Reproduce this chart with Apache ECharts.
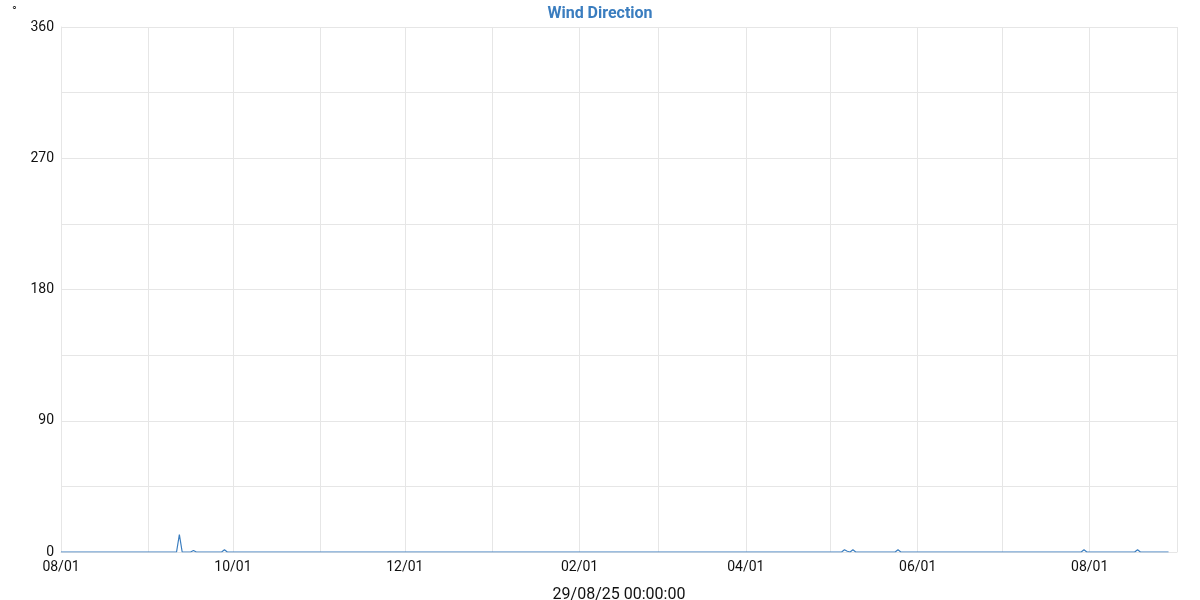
<!DOCTYPE html>
<html>
<head>
<meta charset="utf-8">
<script src="https://cdn.jsdelivr.net/npm/echarts@6/dist/echarts.min.js"></script>
<style>
html,body{margin:0;padding:0;background:#fff;}
#chart{width:1200px;height:600px;}
</style>
</head>
<body>
<div id="chart"></div>
<script>
// Daily wind direction readings (only the days around non-zero readings plus range ends are listed; all other days are 0)
const dates = [
  '2024-08-01', '2024-09-11', '2024-09-12', '2024-09-13',
  '2024-09-16', '2024-09-17', '2024-09-18',
  '2024-09-27', '2024-09-28', '2024-09-29',
  '2025-05-05', '2025-05-06', '2025-05-07', '2025-05-08', '2025-05-09', '2025-05-10',
  '2025-05-24', '2025-05-25', '2025-05-26',
  '2025-07-29', '2025-07-30', '2025-07-31',
  '2025-08-17', '2025-08-18', '2025-08-19',
  '2025-08-29'
];
const values = [
  0, 0, 12, 0,
  0, 1, 0,
  0, 1.5, 0,
  0, 1.5, 0.5, 0, 1.5, 0,
  0, 1.5, 0,
  0, 1.5, 0,
  0, 1.5, 0,
  0
];
const yTicks = [0, 90, 180, 270, 360];
const xMin = '2024-08-01';
const xMax = '2025-09-01';
const titleText = 'Wind Direction';
const unitText = '°';
const xName = '29/08/25 00:00:00';

const chart = echarts.init(document.getElementById('chart'));
const DAY = 86400000;
chart.setOption({
  animation: false,
  title: [
    { text: titleText, left: 'center', top: 1,
      textStyle: { fontFamily: 'Roboto', fontSize: 16, fontWeight: 'bold', color: '#3a7dbf' } },
    { text: unitText, left: 7, top: 0,
      textStyle: { fontFamily: 'Roboto', fontSize: 13, fontWeight: 'normal', color: '#222' } }
  ],
  grid: { left: 61, right: 23, top: 27, bottom: 48, containLabel: false, outerBoundsMode: 'none' },
  xAxis: {
    type: 'time',
    min: xMin,
    max: xMax,
    minInterval: 28 * DAY,
    maxInterval: 31 * DAY,
    splitNumber: 13,
    name: xName,
    nameLocation: 'middle',
    nameGap: 35,
    nameTextStyle: { fontFamily: 'Roboto', fontSize: 16, color: '#111' },
    axisLine: { show: true, lineStyle: { color: '#e6e6e6' } },
    axisTick: { show: false },
    splitLine: { show: true, lineStyle: { color: '#e6e6e6', width: 1 } },
    axisLabel: {
      fontFamily: 'Roboto', fontSize: 14, color: '#111', margin: 8,
      showMinLabel: true, showMaxLabel: true,
      hideOverlap: false,
      formatter: function (v) {
        const d = new Date(v);
        if (d.getDate() !== 1 || d.getMonth() % 2 !== 1) return '';
        const mm = String(d.getMonth() + 1).padStart(2, '0');
        return mm + '/01';
      }
    }
  },
  yAxis: {
    type: 'value',
    min: 0,
    max: 360,
    interval: 45,
    axisLine: { show: true, lineStyle: { color: '#e6e6e6' } },
    axisTick: { show: false },
    splitLine: { show: true, lineStyle: { color: '#e6e6e6', width: 1 } },
    axisLabel: {
      fontFamily: 'Roboto', fontSize: 14, color: '#111', margin: 7,
      formatter: function (v) { return yTicks.indexOf(v) >= 0 ? String(v) : ''; }
    }
  },
  series: [{
    type: 'line',
    data: dates.map((d, i) => [d, values[i]]),
    showSymbol: false,
    symbol: 'none',
    lineStyle: { color: '#3a7dbf', width: 1.2 },
    itemStyle: { color: '#3a7dbf' }
  }]
});
</script>
</body>
</html>
